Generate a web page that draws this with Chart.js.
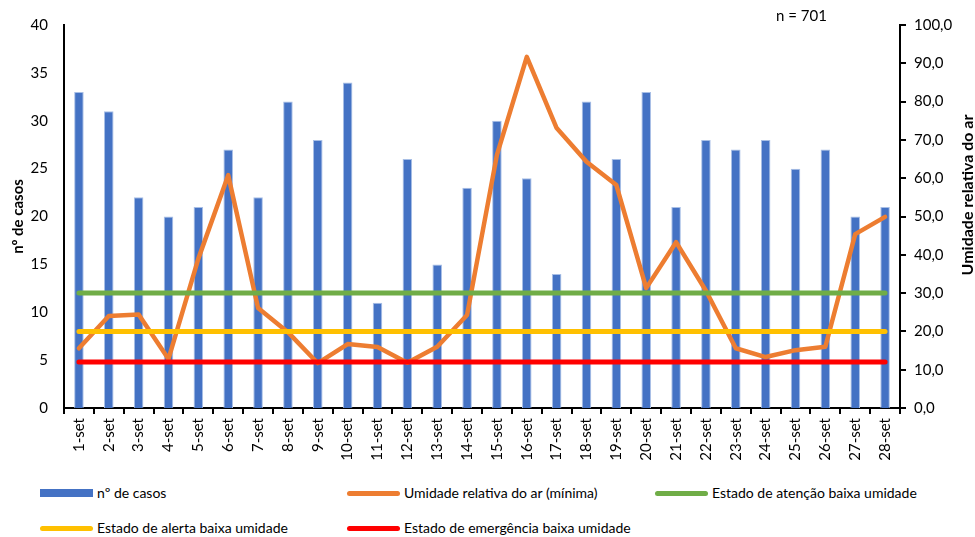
<!DOCTYPE html>
<html>
<head>
<meta charset="utf-8">
<script src="https://cdn.jsdelivr.net/npm/chart.js@4"></script>
<style>
  body { margin: 0; background: #fff; font-family: Lato, "Noto Sans", sans-serif; }
  #wrap { position: relative; width: 975px; height: 537px; }
  #box { position: absolute; left: 0; top: 0; width: 975px; height: 470px; }
  #n { position: absolute; left: 776px; top: 6px; font-size: 15px; color: #000; }
  .lg { position: absolute; font-size: 14px; color: #000; white-space: nowrap; line-height: 16px; }
  .lg i { display: inline-block; width: 53px; vertical-align: middle; margin-right: 4px; position: relative; top: -1px; }
</style>
</head>
<body>
<div id="wrap">
  <div id="box"><canvas id="c"></canvas></div>
  <div id="n">n = 701</div>
  <div class="lg" style="left:40px;top:485px"><i style="height:8px;background:#4472C4"></i>nº de casos</div>
  <div class="lg" style="left:347px;top:485px"><i style="height:5px;border-radius:3px;background:#ED7D31"></i>Umidade relativa do ar (mínima)</div>
  <div class="lg" style="left:655px;top:485px"><i style="height:5px;border-radius:3px;background:#70AD47"></i>Estado de atenção baixa umidade</div>
  <div class="lg" style="left:40px;top:520px"><i style="height:5px;border-radius:3px;background:#FFC000"></i>Estado de alerta baixa umidade</div>
  <div class="lg" style="left:347px;top:520px"><i style="height:5px;border-radius:3px;background:#FF0000"></i>Estado de emergência baixa umidade</div>
</div>
<script>
// dias de setembro
const dias = ['1-set','2-set','3-set','4-set','5-set','6-set','7-set','8-set','9-set','10-set',
  '11-set','12-set','13-set','14-set','15-set','16-set','17-set','18-set','19-set','20-set',
  '21-set','22-set','23-set','24-set','25-set','26-set','27-set','28-set'];

// nº de casos (soma = 701)
const casos = [33, 31, 22, 20, 21, 27, 22, 32, 28, 34, 11, 26, 15, 23, 30, 24, 14, 32, 26, 33,
  21, 28, 27, 28, 25, 27, 20, 21];

// umidade relativa minima (%)
const umidade = [15.6, 24.0, 24.4, 12.8, 39.0, 60.8, 26.1, 19.8, 11.7, 16.7, 15.9, 11.8, 16.0, 24.3,
  66.1, 91.7, 73.1, 64.3, 58.2, 31.3, 43.3, 30.6, 15.6, 13.3, 15.1, 16.0, 45.4, 49.9];

// limites de umidade
const atencao = [30, 30, 30, 30, 30, 30, 30, 30, 30, 30, 30, 30, 30, 30, 30, 30, 30, 30, 30, 30, 30, 30, 30, 30, 30, 30, 30, 30];
const alerta = [20, 20, 20, 20, 20, 20, 20, 20, 20, 20, 20, 20, 20, 20, 20, 20, 20, 20, 20, 20, 20, 20, 20, 20, 20, 20, 20, 20];
const emergencia = [12, 12, 12, 12, 12, 12, 12, 12, 12, 12, 12, 12, 12, 12, 12, 12, 12, 12, 12, 12, 12, 12, 12, 12, 12, 12, 12, 12];

const FONT = 'Lato, "Noto Sans", sans-serif';
Chart.defaults.font.family = FONT;
Chart.defaults.color = '#000';

function linha(label, data, cor, ordem, w) {
  return {
    type: 'line', label, data, yAxisID: 'y2', order: ordem,
    borderColor: cor, backgroundColor: cor, borderWidth: w,
    pointRadius: 0, tension: 0, borderCapStyle: 'round', borderJoinStyle: 'round'
  };
}

// titulo do eixo direito, lido de baixo para cima
const tituloDireito = {
  id: 'tituloDireito',
  afterDraw(chart) {
    const ctx = chart.ctx;
    ctx.save();
    ctx.translate(chart.width - 7, 195);
    ctx.rotate(-Math.PI / 2);
    ctx.font = 'bold 16px ' + FONT;
    ctx.fillStyle = '#000';
    ctx.textAlign = 'center';
    ctx.textBaseline = 'middle';
    ctx.fillText('Umidade relativa do ar', 0, 0);
    ctx.restore();
  }
};

new Chart(document.getElementById('c'), {
  type: 'bar',
  data: {
    labels: dias,
    datasets: [
      {
        label: 'nº de casos', data: casos, yAxisID: 'y', order: 5,
        backgroundColor: '#4472C4', borderColor: '#a8bfe6', borderWidth: 1,
        barPercentage: 0.32, categoryPercentage: 1
      },
      linha('Umidade relativa do ar (mínima)', umidade, '#ED7D31', 4, 4.5),
      linha('Estado de atenção baixa umidade', atencao, '#70AD47', 3, 5),
      linha('Estado de alerta baixa umidade', alerta, '#FFC000', 2, 5),
      linha('Estado de emergência baixa umidade', emergencia, '#FF0000', 1, 5)
    ]
  },
  plugins: [tituloDireito],
  options: {
    responsive: true,
    maintainAspectRatio: false,
    animation: false,
    layout: { padding: { top: 25, left: 0, right: 0, bottom: 0 } },
    plugins: { legend: { display: false }, tooltip: { enabled: false } },
    scales: {
      x: {
        offset: true,
        afterFit: s => { s.height = 62; },
        grid: { display: true, drawOnChartArea: false, drawTicks: true, tickLength: 6, color: '#000', lineWidth: 2, offset: true },
        border: { display: true, color: '#000', width: 2 },
        ticks: { minRotation: 90, maxRotation: 90, autoSkip: false, font: { size: 15 }, padding: 4 }
      },
      y: {
        position: 'left', min: 0, max: 40,
        afterFit: s => { s.width = 64; },
        grid: { display: false, drawTicks: false },
        border: { display: true, color: '#000', width: 2 },
        ticks: { stepSize: 5, font: { size: 15 }, padding: 16 },
        title: { display: true, text: 'nº de casos', font: { size: 15, weight: 'bold' }, padding: { top: 9, bottom: 0 } }
      },
      y2: {
        position: 'right', min: 0, max: 100,
        afterFit: s => { s.width = 75; },
        grid: { display: true, drawOnChartArea: false, drawTicks: true, tickLength: 6, color: '#000', lineWidth: 2 },
        border: { display: true, color: '#000', width: 2 },
        ticks: { stepSize: 10, font: { size: 15 }, padding: 8,
          callback: v => v.toFixed(1).replace('.', ',') }
      }
    }
  }
});
</script>
</body>
</html>
